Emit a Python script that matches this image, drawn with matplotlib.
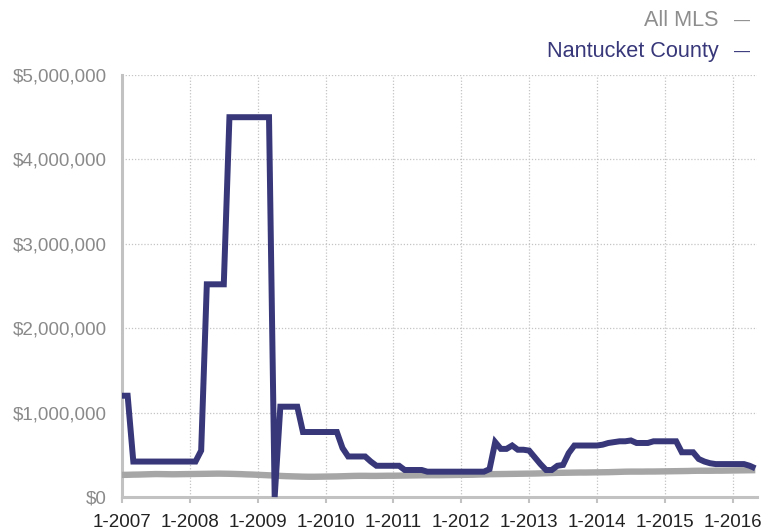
import matplotlib
matplotlib.use("Agg")
import matplotlib.pyplot as plt
from matplotlib.ticker import FuncFormatter, FixedLocator

plt.rcParams['font.family'] = ['Liberation Sans', 'DejaVu Sans']

# Monthly data, Jan 2007 .. May 2016 (values in millions of dollars)
nantucket = [
    1.20, 1.20, 0.42, 0.42, 0.42, 0.42, 0.42, 0.42, 0.42, 0.42, 0.42, 0.42,   # 2007
    0.42, 0.42, 0.55, 2.52, 2.52, 2.52, 2.52, 4.50, 4.50, 4.50, 4.50, 4.50,   # 2008
    4.50, 4.50, 4.50, 0.00, 1.07, 1.07, 1.07, 1.07, 0.77, 0.77, 0.77, 0.77,   # 2009
    0.77, 0.77, 0.77, 0.58, 0.48, 0.48, 0.48, 0.48, 0.42, 0.37, 0.37, 0.37,   # 2010
    0.37, 0.37, 0.32, 0.32, 0.32, 0.32, 0.30, 0.30, 0.30, 0.30, 0.30, 0.30,   # 2011
    0.30, 0.30, 0.30, 0.30, 0.30, 0.33, 0.65, 0.57, 0.57, 0.61, 0.56, 0.56,   # 2012
    0.55, 0.47, 0.39, 0.32, 0.32, 0.37, 0.38, 0.52, 0.61, 0.61, 0.61, 0.61,   # 2013
    0.61, 0.62, 0.64, 0.65, 0.66, 0.66, 0.67, 0.64, 0.64, 0.64, 0.66, 0.66,   # 2014
    0.66, 0.66, 0.66, 0.53, 0.53, 0.53, 0.45, 0.42, 0.40, 0.39, 0.39, 0.39,   # 2015
    0.39, 0.39, 0.39, 0.37, 0.34,                                             # 2016
]
all_mls = [
    0.262, 0.263, 0.265, 0.266, 0.268, 0.270, 0.272, 0.271, 0.270, 0.269, 0.270, 0.271,
    0.272, 0.273, 0.274, 0.275, 0.276, 0.277, 0.276, 0.275, 0.273, 0.271, 0.268, 0.266,
    0.263, 0.260, 0.257, 0.254, 0.250, 0.247, 0.245, 0.243, 0.241, 0.240, 0.240, 0.241,
    0.242, 0.243, 0.244, 0.246, 0.248, 0.250, 0.251, 0.251, 0.250, 0.250, 0.251, 0.252,
    0.252, 0.253, 0.254, 0.255, 0.256, 0.257, 0.258, 0.258, 0.258, 0.259, 0.260, 0.261,
    0.262, 0.263, 0.264, 0.266, 0.268, 0.270, 0.271, 0.272, 0.273, 0.274, 0.275, 0.276,
    0.277, 0.278, 0.280, 0.282, 0.284, 0.286, 0.287, 0.288, 0.289, 0.290, 0.290, 0.291,
    0.292, 0.293, 0.294, 0.296, 0.298, 0.300, 0.301, 0.301, 0.301, 0.302, 0.302, 0.303,
    0.304, 0.305, 0.306, 0.307, 0.308, 0.310, 0.311, 0.311, 0.311, 0.312, 0.312, 0.313,
    0.314, 0.315, 0.316, 0.317, 0.318,
]
x_tick_labels = ["1-2007", "1-2008", "1-2009", "1-2010", "1-2011",
                 "1-2012", "1-2013", "1-2014", "1-2015", "1-2016"]
y_ticks = [0, 1_000_000, 2_000_000, 3_000_000, 4_000_000, 5_000_000]
series_names = ["All MLS", "Nantucket County"]

NAVY = "#37377a"
GRAY = "#a6a6a6"

fig = plt.figure(figsize=(7.76, 5.31), dpi=100)
ax = fig.add_axes([122/776, 1-497/531, (757-122)/776, (497-75)/531])

months = list(range(len(nantucket)))
ax.plot(months, [v * 1e6 for v in all_mls], color=GRAY, lw=4.6,
        solid_joinstyle='round', solid_capstyle='butt', zorder=3, clip_on=False)
ax.plot(months, [v * 1e6 for v in nantucket], color=NAVY, lw=4.3,
        solid_joinstyle='miter', solid_capstyle='butt', zorder=4, clip_on=False)

ax.set_xlim(0, 112.3)
ax.set_ylim(0, 5_000_000)
ax.xaxis.set_major_locator(FixedLocator([12 * i for i in range(len(x_tick_labels))]))
ax.set_xticklabels(x_tick_labels)
ax.yaxis.set_major_locator(FixedLocator(y_ticks))
ax.yaxis.set_major_formatter(FuncFormatter(lambda v, p: "${:,.0f}".format(v)))

ax.grid(True, which='major', linestyle=(0, (1, 1.5)), color='#c4c4c4', lw=0.9, zorder=0)
for s in ['top', 'right']:
    ax.spines[s].set_visible(False)
for s in ['left', 'bottom']:
    ax.spines[s].set_color('#c2c2c2')
    ax.spines[s].set_linewidth(2.2)
ax.tick_params(axis='x', length=4, width=1.5, color='#c2c2c2', pad=8,
               labelsize=13.5, labelcolor='#222222')
ax.tick_params(axis='y', length=0, pad=11, labelsize=13.5, labelcolor='#8a8a8a')

# legend (top right)
fig.text(719/776, 1-21/531, series_names[0], ha='right', va='center',
         fontsize=15.6, color='#8e8e8e')
fig.text(734/776, 1-21/531, "—", ha='left', va='center', fontsize=11.5, color='#8e8e8e')
fig.text(719/776, 1-52/531, series_names[1], ha='right', va='center',
         fontsize=15.6, color=NAVY)
fig.text(734/776, 1-52/531, "—", ha='left', va='center', fontsize=11.5, color=NAVY)

fig.savefig("out.png", dpi=100)
